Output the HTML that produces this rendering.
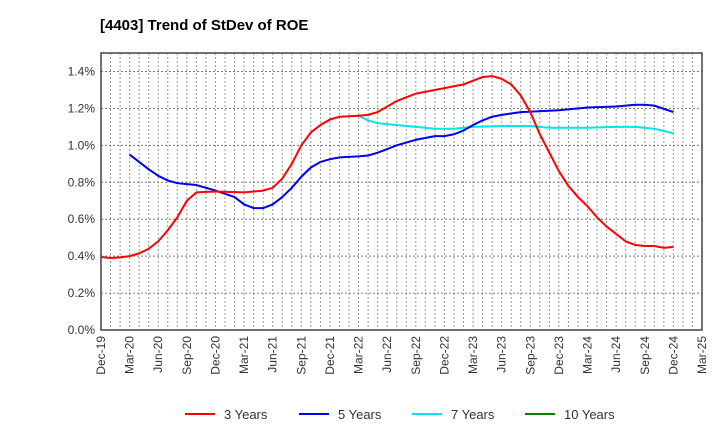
<!DOCTYPE html>
<html><head><meta charset="utf-8"><style>
body{margin:0;background:#fff;font-family:"Liberation Sans",sans-serif}
</style></head><body>
<svg width="720" height="440" xmlns="http://www.w3.org/2000/svg">
<text x="100" y="30" font-size="15" font-weight="bold">[4403]  Trend of StDev of ROE</text>
<g id="grid"></g><g id="axes"></g><g id="series"></g><g id="legend"></g>
</svg>
<script>
const xLabels=["Dec-19","Mar-20","Jun-20","Sep-20","Dec-20","Mar-21","Jun-21","Sep-21","Dec-21","Mar-22","Jun-22","Sep-22","Dec-22","Mar-23","Jun-23","Sep-23","Dec-23","Mar-24","Jun-24","Sep-24","Dec-24","Mar-25"];
const yTicks=[0,0.2,0.4,0.6,0.8,1.0,1.2,1.4];
const m3=[0,1,2,3,4,5,6,7,8,9,10,12,15,17,18,19,20,21,22,23,24,25,27,28,29,30,31,32,33,36,38,39,40,41,42,43,44,45,46,47,48,49,50,51,52,53,54,55,56,57,58,59,60];
const v3=[0.395,0.39,0.393,0.40,0.415,0.44,0.48,0.54,0.61,0.70,0.745,0.75,0.745,0.755,0.77,0.82,0.90,1.00,1.07,1.11,1.14,1.155,1.16,1.165,1.18,1.21,1.24,1.26,1.28,1.31,1.33,1.35,1.37,1.375,1.36,1.33,1.27,1.18,1.06,0.96,0.86,0.78,0.72,0.67,0.61,0.56,0.52,0.48,0.46,0.455,0.455,0.445,0.45];
const m5=[3,4,5,6,7,8,9,10,12,14,15,16,17,18,19,20,21,22,23,24,25,27,28,29,30,31,33,35,36,37,38,39,40,41,42,44,48,51,54,56,57,58,60];
const v5=[0.95,0.91,0.87,0.835,0.81,0.795,0.79,0.785,0.755,0.72,0.68,0.66,0.66,0.68,0.72,0.77,0.83,0.88,0.91,0.925,0.935,0.94,0.945,0.96,0.98,1.00,1.03,1.05,1.05,1.06,1.08,1.11,1.135,1.155,1.165,1.18,1.19,1.205,1.21,1.22,1.22,1.215,1.18];
const m7=[27,28,29,30,33,35,37,39,42,45,47,51,54,56,58,60];
const v7=[1.16,1.135,1.12,1.115,1.10,1.09,1.09,1.10,1.105,1.105,1.095,1.095,1.10,1.10,1.09,1.065];
const m10=[];const v10=[];
const L=101,R=702,T=53,B=330,yMax=1.5;
const x=m=>L+(R-L)*m/63, y=v=>B-(B-T)*v/yMax;
const NS="http://www.w3.org/2000/svg";
function mk(p,t,a){const e=document.createElementNS(NS,t);for(const k in a)e.setAttribute(k,a[k]);p.appendChild(e);return e;}
const grid=document.getElementById('grid'),axes=document.getElementById('axes'),ser=document.getElementById('series'),leg=document.getElementById('legend');
for(let m=1;m<63;m++){const g=mk(grid,'line',{x1:x(m),x2:x(m),y1:T,y2:B,stroke:'#999','stroke-dasharray':'2,2','stroke-width':1});

}
yTicks.forEach(v=>{if(v>0){const g=mk(grid,'line',{x1:L,x2:R,y1:y(v),y2:y(v),stroke:'#777','stroke-dasharray':'2,2','stroke-width':1});

}
const t=mk(axes,'text',{x:L-6,y:y(v)+4,'text-anchor':'end','font-size':12,fill:'#333'});t.textContent=v.toFixed(1)+'%';

});
const fr=mk(axes,'rect',{x:L,y:T,width:R-L,height:B-T,fill:'none',stroke:'#444','stroke-width':1.5});


xLabels.forEach((s,i)=>{const xx=x(i*3);const t=mk(axes,'text',{x:xx+4,y:B+6,'text-anchor':'end','font-size':12,fill:'#333',transform:`rotate(-90 ${xx+4} ${B+6})`});t.textContent=s;

});
function line(ms,vs,c,name){if(!ms.length)return;const p=mk(ser,'polyline',{points:ms.map((m,i)=>x(m)+','+y(vs[i])).join(' '),fill:'none',stroke:c,'stroke-width':2,'stroke-linejoin':'round'});

}
line(m7,v7,'#00e5e5','line-7-years');line(m5,v5,'#0000ee','line-5-years');line(m3,v3,'#ff0000','line-3-years');line(m10,v10,'#008000','line-10-years');
[['3 Years','#ff0000',185],['5 Years','#0000ee',299],['7 Years','#00e5e5',412],['10 Years','#008000',525]].forEach(([n,c,lx])=>{
const g=mk(leg,'g',{});


mk(g,'line',{x1:lx,x2:lx+30,y1:414,y2:414,stroke:c,'stroke-width':2});
const t=mk(g,'text',{x:lx+39,y:419,'font-size':13,fill:'#333'});t.textContent=n;});
</script>
</body></html>
